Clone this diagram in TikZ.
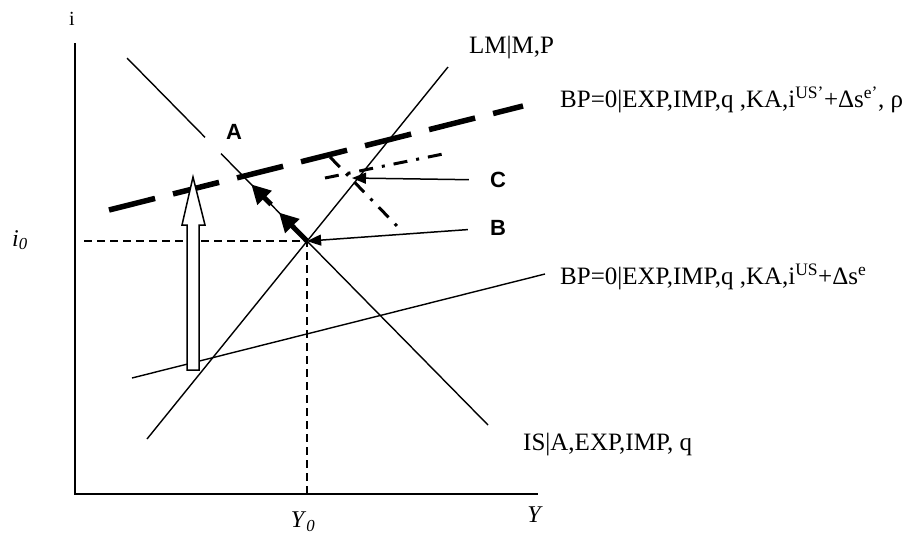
\documentclass[tikz,border=0pt]{standalone}
\usepackage{fontspec}
\setmainfont{Liberation Serif}
\newfontfamily\pointfont{Liberation Sans}
\usetikzlibrary{arrows.meta, calc}

\begin{document}
\begin{tikzpicture}[x=1pt, y=-1pt,
  thinline/.style={line width=1.4pt},
  guide/.style={line width=1.4pt, dash pattern=on 8pt off 5pt},
  bpnew/.style={line width=5.5pt, dash pattern=on 47.5pt off 18.5pt},
  dashdot/.style={line width=3pt, dash pattern=on 14pt off 9pt on 3pt off 9pt},
  pointer/.style={line width=1.5pt, -{Triangle[length=14pt,width=11pt]}},
  bigmove/.style={line width=5pt, -{Triangle[length=19pt,width=19pt]}},
  curvelabel/.style={font=\fontsize{25}{28}\selectfont, anchor=west, inner sep=0pt},
  axislabel/.style={font=\fontsize{24}{26}\selectfont, inner sep=0pt},
  pointlabel/.style={font=\pointfont\bfseries\fontsize{22}{24}\selectfont, inner sep=0pt}]

\useasboundingbox (0,0) rectangle (905,558);

\coordinate (top) at (75,43);
\coordinate (origin) at (75,494);
\coordinate (right) at (538,494);

\coordinate (IS1) at (127,58);
\coordinate (gapa) at (205,137.3);
\coordinate (gapb) at (221,153.6);
\coordinate (IS2) at (488,425);
\coordinate (LM1) at (147,439);
\coordinate (LM2) at (448,67);
\coordinate (BP1) at (132,378);
\coordinate (BP2) at (545,274);
\coordinate (BPn1) at (109,210);
\coordinate (BPn2) at (523,106);
\coordinate (E) at (intersection of IS1--IS2 and LM1--LM2);

% axes
\draw [thinline] (top) -- (origin) -- (right);

% curves
\draw [thinline] (IS1) -- (gapa) (gapb) -- (IS2);
\draw [thinline] (LM1) -- (LM2);
\draw [thinline] (BP1) -- (BP2);
\draw [bpnew] (BPn1) -- (BPn2);

\draw [guide] ([xshift=9pt]E -| origin) -- (E) -- (E |- origin);

%%%%%%%%%%%%%%% shifted curves
\coordinate (hd1) at (325,178);
\coordinate (hd2) at (443,154);
\coordinate (dd1) at (330,157);
\coordinate (dd2) at (397,226);
\draw [dashdot] (hd1) -- (hd2);
\draw [dashdot] (dd1) -- (dd2);

%%%%%%%%%%%%%%% movements
\draw [bigmove] (E) -- ($(E)!0.156!(IS1)$);
\draw [bigmove] ($(E)!0.2!(IS1)$) -- ($(E)!0.31!(IS1)$);

\draw [line width=1.5pt, fill=white] (187,370) -- (187,225) -- (182,225) -- (193,177)
  -- (205,225) -- (199,225) -- (199,370) -- cycle;

%%%%%%%%%%%%%%% labels
\node [pointlabel] (A) at (234,132) {A};
\node [pointlabel] (C) at (498,180) {C};
\node [pointlabel] (B) at (498,228) {B};

\coordinate (Ctip) at (352,178);
\draw [pointer, shorten <=21pt] (C.west) -- (Ctip);
\draw [pointer, shorten <=22pt] (B.west) -- (E);

\node [curvelabel] (LMlabel) at (469,48) {LM|M,P};
\node [curvelabel] (BPup) at (560,100) {BP=0|EXP,IMP,q ,KA,i\textsuperscript{US’}+Δs\textsuperscript{e’}, ρ};
\node [curvelabel] (BPlow) at (560,277) {BP=0|EXP,IMP,q ,KA,i\textsuperscript{US}+Δs\textsuperscript{e}};
\node [curvelabel] (ISlabel) at (523,445) {IS|A,EXP,IMP, q};

\node [axislabel, font=\fontsize{20}{22}\selectfont] (ilabel) at (72,19) {i};
\node [axislabel] (i0) at (20,240) {\textit{i}\textsubscript{\textit{0}}};
\node [axislabel] (Y0) at (303,522) {\textit{Y}\textsubscript{\textit{0}}};
\node [axislabel] (Ylabel) at (535,515) {\textit{Y}};

\end{tikzpicture}
\end{document}
